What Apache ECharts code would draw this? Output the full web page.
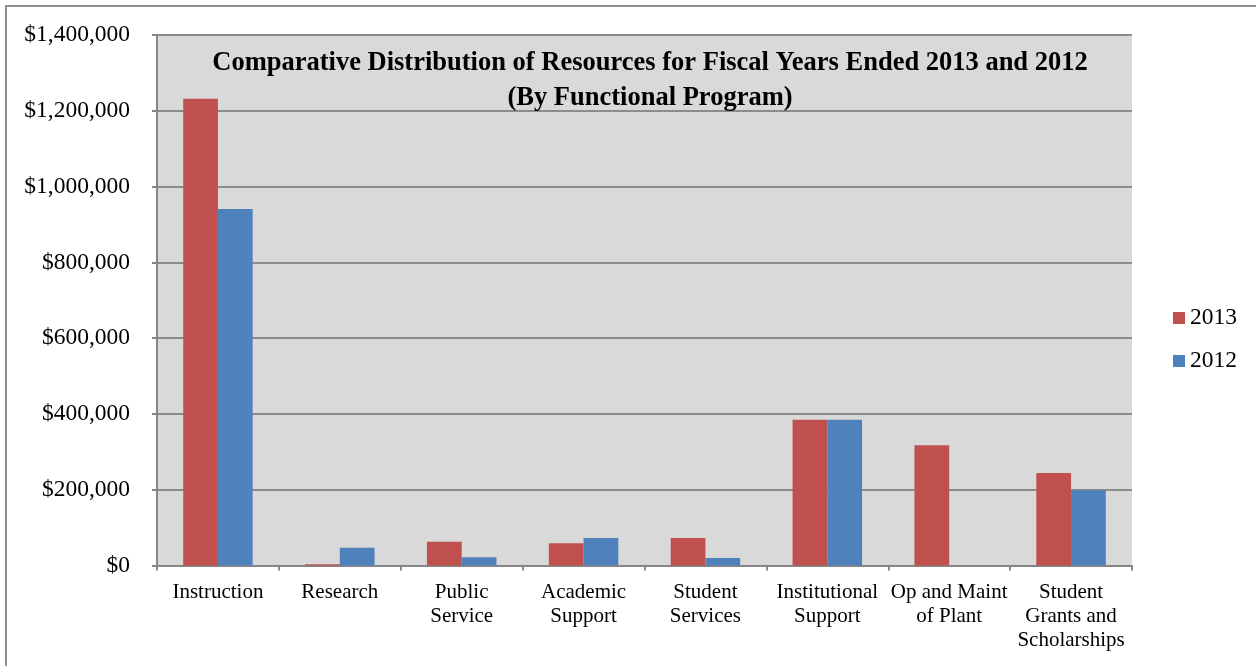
<!DOCTYPE html>
<html>
<head>
<meta charset="utf-8">
<script src="https://cdn.jsdelivr.net/npm/echarts@6/dist/echarts.min.js"></script>
<style>
html,body{margin:0;padding:0;background:#fff;}
#chart{width:1256px;height:666px;}
</style>
</head>
<body>
<div id="chart"></div>
<script>
var categories = ['Instruction', 'Research', 'Public\nService', 'Academic\nSupport', 'Student\nServices', 'Institutional\nSupport', 'Op and Maint\nof Plant', 'Student\nGrants and\nScholarships'];
var values2013 = [1232000, 3000, 63000, 58600, 72700, 384400, 317600, 244400];
var values2012 = [941000, 47000, 21700, 72700, 19800, 384400, 0, 198700];
var seriesNames = ['2013', '2012'];
var titleLines = ['Comparative Distribution of Resources for Fiscal Years Ended 2013 and 2012', '(By Functional Program)'];
var yMin = 0, yMax = 1400000, yStep = 200000;

var FONT = 'Liberation Serif';
var chart = echarts.init(document.getElementById('chart'));
chart.setOption({
  animation: false,
  color: ['#C0504D', '#4F81BD'],
  graphic: [{
    type: 'rect',
    shape: {x: 6, y: 6, width: 1400, height: 800},
    style: {fill: 'none', stroke: '#8f8f8f', lineWidth: 2},
    z: 100
  }],
  title: {
    text: titleLines.join('\n'),
    left: 650,
    textAlign: 'center',
    top: 45.5,
    padding: 0,
    textStyle: {fontFamily: FONT, fontWeight: 'bold', fontSize: 26.5, lineHeight: 35, color: '#000'}
  },
  legend: {
    orient: 'vertical',
    left: 1173,
    top: 306,
    padding: 0,
    itemWidth: 12,
    itemHeight: 12,
    itemGap: 19,
    icon: 'rect',
    data: seriesNames,
    textStyle: {fontFamily: FONT, fontSize: 23.5, lineHeight: 23, color: '#000'}
  },
  grid: {
    left: 157, right: 124, top: 35, bottom: 100.5,
    show: true, backgroundColor: '#d9d9d9', borderWidth: 0
  },
  xAxis: {
    type: 'category',
    data: categories,
    axisLine: {lineStyle: {color: '#868686', width: 2}},
    axisTick: {show: true, length: 5, lineStyle: {color: '#868686', width: 2}},
    axisLabel: {fontFamily: FONT, fontSize: 21, lineHeight: 24, color: '#000', margin: 15, interval: 0}
  },
  yAxis: {
    type: 'value',
    min: yMin, max: yMax, interval: yStep,
    axisLine: {show: true, lineStyle: {color: '#868686', width: 2}},
    axisTick: {show: true, length: 5, lineStyle: {color: '#868686', width: 2}},
    splitLine: {show: true, lineStyle: {color: '#8c8c8c', width: 2}},
    axisLabel: {
      fontFamily: FONT, fontSize: 23.5, color: '#000', margin: 27,
      formatter: function (v) { return '$' + v.toLocaleString('en-US'); }
    }
  },
  series: [{
    name: seriesNames[0], type: 'bar', data: values2013,
    barGap: '0%', barCategoryGap: '43%'
  }, {
    name: seriesNames[1], type: 'bar', data: values2012,
    barGap: '0%', barCategoryGap: '43%'
  }]
});
</script>
</body>
</html>
